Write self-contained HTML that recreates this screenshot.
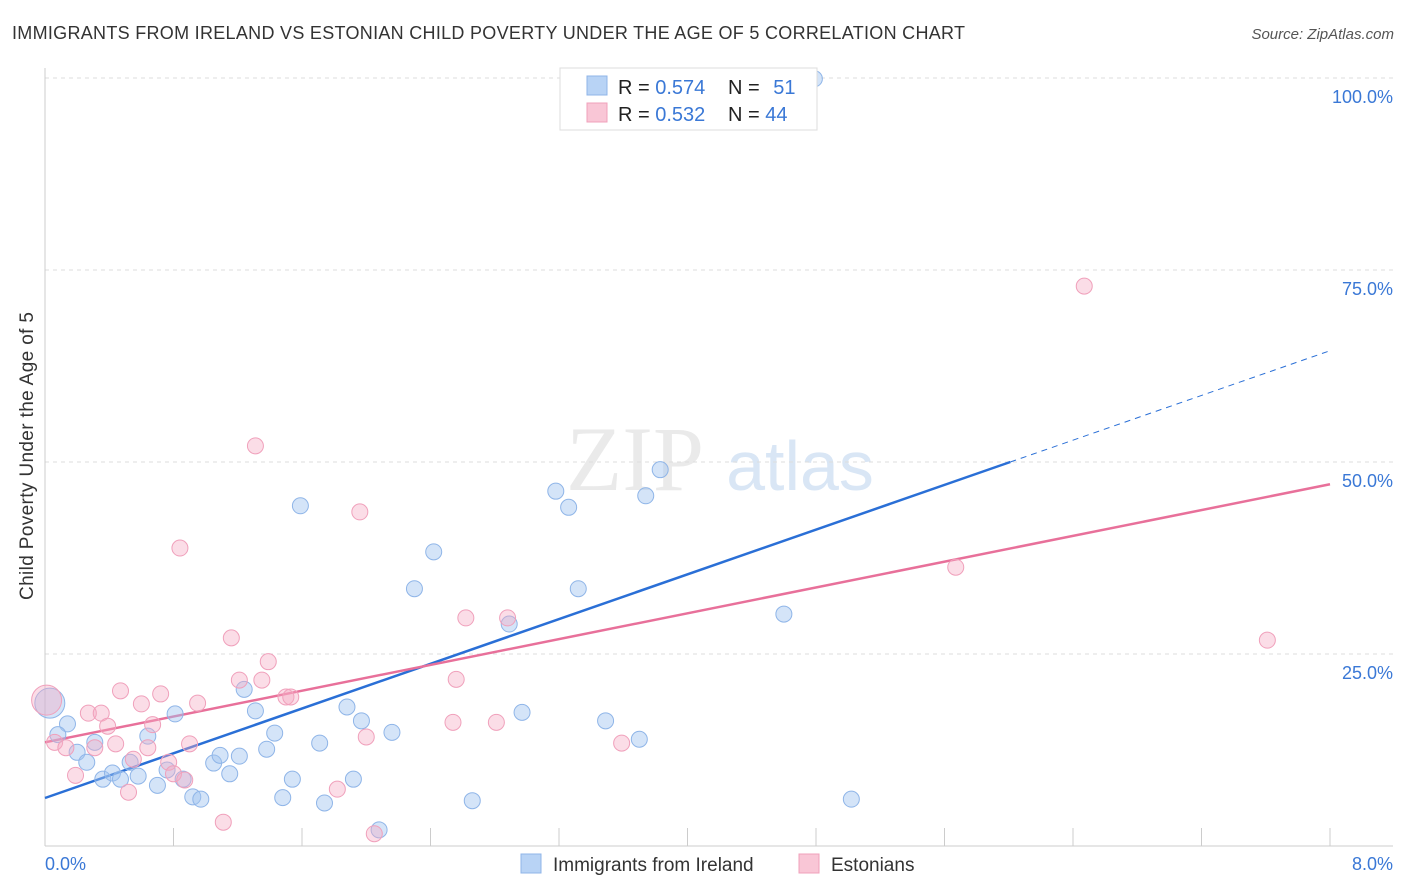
<!DOCTYPE html>
<html><head><meta charset="utf-8">
<style>
body{margin:0;background:#fff;font-family:"Liberation Sans",sans-serif;}
svg{display:block}
</style></head>
<body>
<svg id="chart" width="1406" height="892" xmlns="http://www.w3.org/2000/svg">
<text x="12" y="39" font-size="18" fill="#333" textLength="953" lengthAdjust="spacing">IMMIGRANTS FROM IRELAND VS ESTONIAN CHILD POVERTY UNDER THE AGE OF 5 CORRELATION CHART</text>
<text x="1394" y="39" font-size="15" fill="#555" font-style="italic" text-anchor="end">Source: ZipAtlas.com</text>
<text transform="translate(33,456) rotate(-90)" font-size="19" fill="#333" text-anchor="middle" textLength="288" lengthAdjust="spacing">Child Poverty Under the Age of 5</text>
<g>
<text x="635" y="490" font-size="92" fill="#ddd" font-family="Liberation Serif,serif" text-anchor="middle" opacity="0.6">ZIP</text>
<text x="800" y="490" font-size="70" fill="#c9dcf2" text-anchor="middle" opacity="0.7">atlas</text>
</g>
<g id="grid"></g>
<g id="axes"></g>
<g id="lines"></g>
<g id="points"></g>
<g>
<rect x="560" y="68" width="257" height="62" fill="#fff" stroke="#ddd"/>
<rect x="587" y="76" width="20" height="19" fill="#b8d3f5" stroke="#8fb5e8"/>
<rect x="587" y="103" width="20" height="19" fill="#f9c6d6" stroke="#f0a0bb"/>
<text x="618" y="94" font-size="20" fill="#222">R = <tspan fill="#3a78d6">0.574</tspan></text>
<text x="728" y="94" font-size="20" fill="#222">N = <tspan fill="#3a78d6" dx="8">51</tspan></text>
<text x="618" y="121" font-size="20" fill="#222">R = <tspan fill="#3a78d6">0.532</tspan></text>
<text x="728" y="121" font-size="20" fill="#222">N = <tspan fill="#3a78d6">44</tspan></text>
</g>
<g>
<rect x="521" y="854" width="20" height="19" fill="#b8d3f5" stroke="#8fb5e8"/>
<text x="553" y="871" font-size="19" fill="#333">Immigrants from Ireland</text>
<rect x="799" y="854" width="20" height="19" fill="#f9c6d6" stroke="#f0a0bb"/>
<text x="831" y="871" font-size="19" fill="#333">Estonians</text>
</g>
</svg>
<script>
const blueX=[0.03,0.14,0.08,0.20,0.26,0.31,0.36,0.42,0.47,0.53,0.58,0.64,0.70,0.76,0.81,0.86,0.92,0.97,1.05,1.09,1.15,1.21,1.24,1.31,1.38,1.43,1.48,1.54,1.59,1.71,1.74,1.88,1.92,1.97,2.08,2.16,2.30,2.42,2.66,2.89,2.97,3.18,3.26,3.32,3.49,3.70,3.74,3.83,4.60,4.79,5.02];
const blueY=[18.6,15.9,14.5,12.2,10.9,13.5,8.7,9.5,8.7,10.9,9.1,14.3,7.9,9.9,17.2,8.7,6.4,6.1,10.8,11.8,9.4,11.7,20.4,17.6,12.6,14.7,6.3,8.7,44.3,13.4,5.6,18.1,8.7,16.3,2.1,14.8,33.5,38.3,5.9,28.9,17.4,46.2,44.1,33.5,16.3,13.9,45.6,49.0,30.2,99.9,6.1];
const pinkX=[0.01,0.06,0.13,0.19,0.27,0.31,0.35,0.39,0.44,0.47,0.52,0.55,0.60,0.64,0.67,0.72,0.77,0.80,0.84,0.87,0.90,0.95,1.11,1.16,1.21,1.31,1.35,1.39,1.50,1.53,1.82,1.96,2.00,2.05,2.54,2.56,2.62,2.81,2.88,3.59,5.67,6.47,7.61];
const pinkY=[19.0,13.5,12.8,9.2,17.3,12.8,17.3,15.6,13.3,20.2,7.0,11.3,18.5,12.8,15.8,19.8,10.9,9.4,38.8,8.6,13.3,18.6,3.1,27.1,21.6,52.1,21.6,24.0,19.4,19.4,7.4,43.5,14.2,1.6,16.1,21.7,29.7,16.1,29.7,13.4,36.3,72.9,26.8];
const blueTrend=[6.25,7.28]; // intercept, slope
const pinkTrend=[13.5,4.2];
const yTicks=[25,50,75,100];
const yTickLabels=["25.0%","50.0%","75.0%","100.0%"];
const xTicks=[0,0.8,1.6,2.4,3.2,4.0,4.8,5.6,6.4,7.2,8.0];

const NS="http://www.w3.org/2000/svg";
const sx=v=>45+v*1285/8;
const sy=v=>846-v*7.68;
function mk(tag,attrs,parent){const e=document.createElementNS(NS,tag);for(const k in attrs)e.setAttribute(k,attrs[k]);parent.appendChild(e);return e;}
const grid=document.getElementById('grid'),axes=document.getElementById('axes'),lines=document.getElementById('lines'),pts=document.getElementById('points');

yTicks.forEach((t,i)=>{
  const l=mk('line',{x1:45,x2:1393,y1:sy(t),y2:sy(t),stroke:'#ddd','stroke-dasharray':'4,4'},grid);
  
  
  const tx=mk('text',{x:1393,y:sy(t)+25,'font-size':18,fill:'#3a78d6','text-anchor':'end'},axes);
  tx.textContent=yTickLabels[i];
  
  
});
const ya=mk('line',{x1:45,x2:45,y1:68,y2:846,stroke:'#ccc'},axes);


const xa=mk('line',{x1:45,x2:1393,y1:846,y2:846,stroke:'#ccc'},axes);


xTicks.forEach(t=>{
  const l=mk('line',{x1:sx(t),x2:sx(t),y1:828,y2:846,stroke:'#ccc'},axes);
  
  
});
const x0=mk('text',{x:45,y:870,'font-size':18,fill:'#3a78d6'},axes);x0.textContent='0.0%';


const x8=mk('text',{x:1393,y:870,'font-size':18,fill:'#3a78d6','text-anchor':'end'},axes);x8.textContent='8.0%';



function drawPts(X,Y,fill,stroke,name){
  X.forEach((x,i)=>{
    const big=(i===0);
    const c=mk('circle',{cx:sx(x),cy:sy(Y[i]),r:big?15:8,fill:fill,stroke:stroke,'stroke-width':1},pts);
    
    
  });
}
drawPts(blueX,blueY,'rgba(160,196,240,0.45)','#8fb5e8','ireland-point');
drawPts(pinkX,pinkY,'rgba(245,170,195,0.4)','#f0a0bb','estonians-point');

const bxEnd=(50-blueTrend[0])/blueTrend[1];
const b1=mk('line',{x1:sx(0),y1:sy(blueTrend[0]),x2:sx(bxEnd),y2:sy(50),stroke:'#2a6fd6','stroke-width':2.5},lines);


const b2=mk('line',{x1:sx(bxEnd),y1:sy(50),x2:sx(8),y2:sy(blueTrend[0]+blueTrend[1]*8),stroke:'#2a6fd6','stroke-width':1,'stroke-dasharray':'6,5'},lines);


const p1=mk('line',{x1:sx(0),y1:sy(pinkTrend[0]),x2:sx(8),y2:sy(pinkTrend[0]+pinkTrend[1]*8),stroke:'#e8709a','stroke-width':2.5},lines);


</script>
</body></html>
